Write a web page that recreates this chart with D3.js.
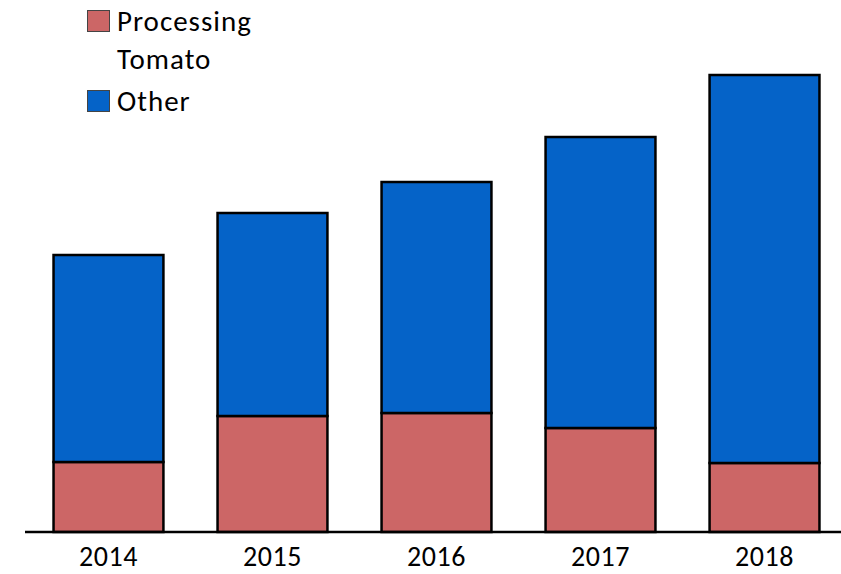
<!DOCTYPE html>
<html>
<head>
<meta charset="utf-8">
<script src="https://cdn.jsdelivr.net/npm/d3@7/dist/d3.min.js"></script>
<style>
  html, body { margin: 0; padding: 0; background: #fff; }
  svg { display: block; font-family: Carlito, Lato, "Open Sans", sans-serif; }
</style>
</head>
<body>
<svg id="chart" width="841" height="574"></svg>
<script>
const years = ["2014", "2015", "2016", "2017", "2018"];
const processingTomato = [70, 116, 119, 104, 69];
const other = [207, 203, 231, 291, 388];
const seriesNames = ["Processing Tomato", "Other"];
const seriesColors = ["#CC6666", "#0563C8"];

const svg = d3.select("#chart");
const baseY = 532;
const fontStack = "Carlito, Lato, 'Open Sans', sans-serif";

const x = d3.scaleBand().domain(years).range([25, 848]).paddingInner(0.33).paddingOuter(0.174);
const y = d3.scaleLinear().domain([0, 500]).range([baseY, 32]);

const rows = years.map((yr, i) => ({ year: yr, tomato: processingTomato[i], other: other[i] }));
const stacked = d3.stack().keys(["tomato", "other"])(rows);

svg.selectAll("g.series").data(stacked).join("g")
  .attr("class", "series")
  .attr("fill", (d, i) => seriesColors[i])
  .selectAll("rect").data(d => d).join("rect")
  .attr("x", d => x(d.data.year))
  .attr("width", x.bandwidth())
  .attr("y", d => y(d[1]))
  .attr("height", d => y(d[0]) - y(d[1]))
  .attr("stroke", "#000")
  .attr("stroke-width", 2.5);

// category axis
const axis = svg.append("g").attr("transform", `translate(0,${baseY})`)
  .call(d3.axisBottom(x).tickSize(0).tickPadding(14));
axis.select(".domain").remove();
axis.attr("font-size", 28).attr("font-family", fontStack);
axis.selectAll("text").attr("font-size", 28).attr("fill", "#000")
  .attr("letter-spacing", 0.6)
  .attr("font-family", fontStack);
svg.append("line").attr("x1", 25).attr("x2", 841).attr("y1", baseY).attr("y2", baseY)
  .attr("stroke", "#000").attr("stroke-width", 2.5);

// legend
const legend = svg.append("g");
const leg = [
  { color: seriesColors[0], y: 10, base: 31, lines: ["Processing", "Tomato"] },
  { color: seriesColors[1], y: 90, base: 111, lines: ["Other"] }
];
leg.forEach(l => {
  legend.append("rect").attr("x", 87.5).attr("y", l.y + 0.5).attr("width", 22).attr("height", 21)
    .attr("fill", l.color).attr("stroke", "#444").attr("stroke-width", 1);
  const t = legend.append("text").attr("x", 117).attr("y", l.base)
    .attr("font-size", 29).attr("letter-spacing", 1).attr("fill", "#000");
  l.lines.forEach((s, k) => {
    t.append("tspan").attr("x", 117).attr("dy", k === 0 ? 0 : 38).text(s);
  });
});
</script>
</body>
</html>
